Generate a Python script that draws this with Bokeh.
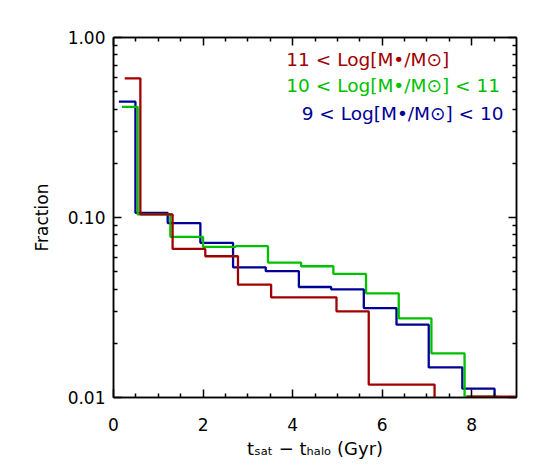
from bokeh.plotting import figure
from bokeh.models import (LinearAxis, LogAxis, FixedTicker, Range1d,
                          PrintfTickFormatter, ColumnDataSource)
from bokeh.core.properties import value
from bokeh.embed import file_html
from bokeh.resources import INLINE

# ---- data ----
red_edges = [0.25, 0.60, 1.32, 2.05, 2.78, 3.52, 4.25, 4.98, 5.70, 6.43, 7.17, 7.90, 8.63, 9.00]
red_vals = [0.593, 0.104, 0.0669, 0.0609, 0.0424, 0.0360, 0.0360, 0.0301, 0.0118, 0.0118, 0.001, 0.0101, 0.0101]

green_edges = [0.19, 0.54, 1.27, 2.00, 2.73, 3.45, 4.19, 4.91, 5.64, 6.37, 7.10, 7.84, 8.57]
green_vals = [0.412, 0.104, 0.0781, 0.0687, 0.0693, 0.0562, 0.0536, 0.0486, 0.0379, 0.0275, 0.0176, 0.0101]

blue_edges = [0.12, 0.49, 1.21, 1.94, 2.67, 3.40, 4.14, 4.86, 5.59, 6.32, 7.04, 7.79, 8.51, 9.00]
blue_vals = [0.440, 0.1062, 0.0931, 0.0723, 0.0529, 0.0503, 0.0411, 0.0399, 0.0314, 0.0254, 0.0147, 0.0112, 0.001]

legend_texts = ["11 < Log[M\u2022/M\u2299]",
                "10 < Log[M\u2022/M\u2299] < 11",
                "9 < Log[M\u2022/M\u2299] < 10"]
legend_x = [3.86, 3.86, 8.71]
legend_y = [0.751, 0.540, 0.3785]
legend_align = ["left", "left", "right"]

y_ticks = [0.01, 0.1, 1.0]
y_minor = [0.02, 0.03, 0.04, 0.05, 0.06, 0.07, 0.08, 0.09,
           0.2, 0.3, 0.4, 0.5, 0.6, 0.7, 0.8, 0.9]
x_ticks = [0, 2, 4, 6, 8]
x_minor = [0.5, 1, 1.5, 2.5, 3, 3.5, 4.5, 5, 5.5, 6.5, 7, 7.5, 8.5]

RED = "#a00000"
GREEN = "#00c000"
BLUE = "#000096"
FONT = "DejaVu Sans"

p = figure(width=530, height=464, y_axis_type="log",
           x_range=Range1d(0, 9), y_range=Range1d(0.01, 1.0),
           output_backend="svg", toolbar_location=None,
           min_border_left=113, min_border_right=14,
           min_border_top=37, min_border_bottom=67)
p.xgrid.visible = False
p.ygrid.visible = False
p.outline_line_color = "black"
p.outline_line_width = 1.5
p.background_fill_color = "white"
p.border_fill_color = "white"

def style_axis(ax, labels=True):
    ax.axis_line_color = "black"
    ax.axis_line_width = 1.5
    ax.major_tick_in = 8
    ax.major_tick_out = 0
    ax.minor_tick_in = 4
    ax.minor_tick_out = 0
    ax.major_tick_line_color = "black"
    ax.minor_tick_line_color = "black"
    ax.major_tick_line_width = 1.5
    ax.minor_tick_line_width = 1.5
    ax.major_label_text_font = FONT
    if labels:
        ax.major_label_text_color = "black"
        ax.major_label_text_font_size = "17px"
    else:
        ax.major_label_text_color = None
        ax.major_label_text_font_size = "2px"
        ax.major_label_standoff = 0
    ax.axis_label_text_font = FONT
    ax.axis_label_text_font_style = "normal"
    ax.axis_label_text_font_size = "17px"
    ax.axis_label_text_color = "black"

xa = p.xaxis[0]
xa.ticker = FixedTicker(ticks=x_ticks, minor_ticks=x_minor)
xa.axis_label = "t\u209b\u2090\u209c \u2212 t\u2095\u2090\u2097\u2092 (Gyr)"
style_axis(xa)
xa.axis_label_text_font_size = "18px"
xa.major_label_standoff = 20
xa.axis_label_standoff = 4

ya = p.yaxis[0]
ya.ticker = FixedTicker(ticks=y_ticks, minor_ticks=y_minor)
ya.formatter = PrintfTickFormatter(format="%.2f")
ya.axis_label = "Fraction"
style_axis(ya)
ya.major_label_standoff = 8
ya.axis_label_standoff = 13

top = LinearAxis(ticker=FixedTicker(ticks=x_ticks, minor_ticks=x_minor))
style_axis(top, labels=False)
p.add_layout(top, "above")
right = LogAxis(ticker=FixedTicker(ticks=y_ticks, minor_ticks=y_minor),
                formatter=PrintfTickFormatter(format="%.2f"))
style_axis(right, labels=False)
p.add_layout(right, "right")

def step(edges, vals, color):
    ys = list(vals) + [vals[-1]]
    return p.step(edges[:len(ys)], ys, mode="after", line_color=color, line_width=2.3)

step(blue_edges, blue_vals, BLUE)
step(green_edges, green_vals, GREEN)
step(red_edges, red_vals, RED)

src = ColumnDataSource(dict(x=legend_x, y=legend_y, t=legend_texts,
                            a=legend_align, c=[RED, GREEN, BLUE]))
p.text(x="x", y="y", text="t", text_align="a", text_color="c",
       text_baseline="middle", text_font=value(FONT), text_font_size="18.5px",
       source=src)

open("out.html", "w").write(file_html(p, INLINE))
